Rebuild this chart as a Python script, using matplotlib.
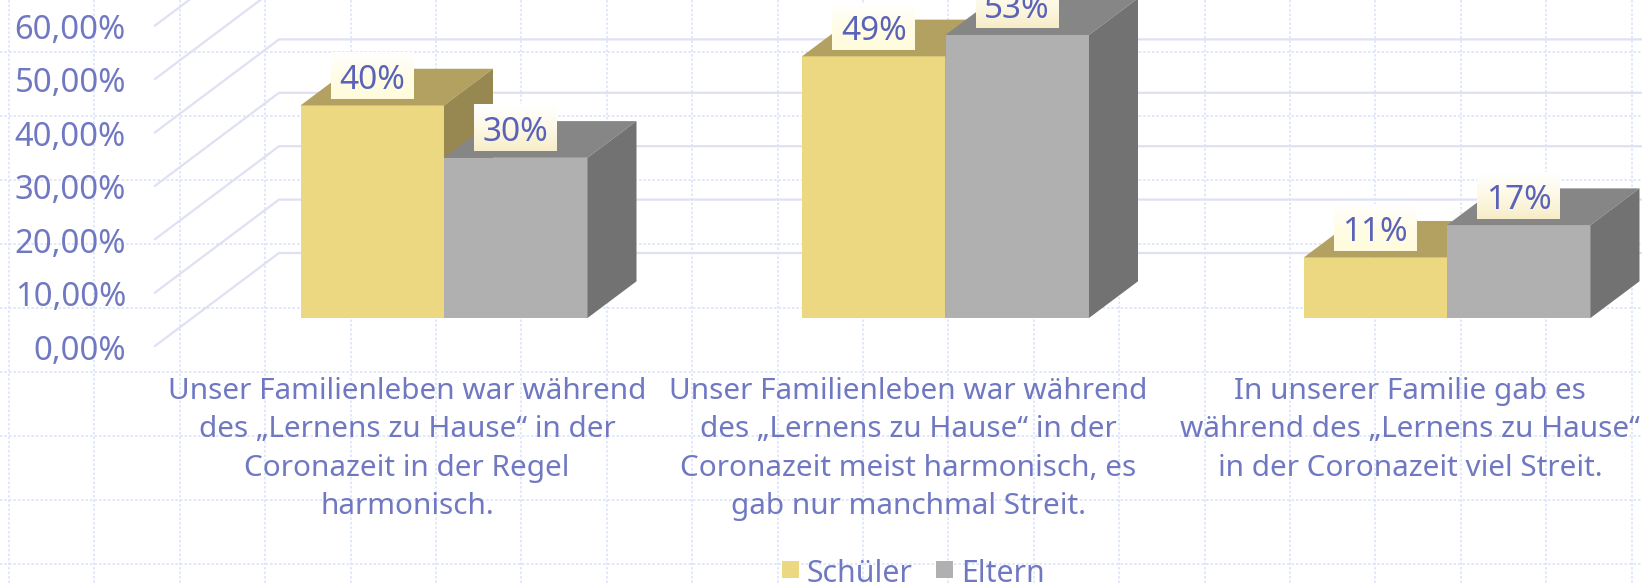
import numpy as np
import matplotlib.pyplot as plt
from matplotlib.colors import LinearSegmentedColormap
from matplotlib.patches import Polygon, Rectangle

plt.rcParams['font.family'] = ['Noto Sans', 'DejaVu Sans']

categories = [
    'Unser Familienleben war während\ndes „Lernens zu Hause“ in der\nCoronazeit in der Regel\nharmonisch.',
    'Unser Familienleben war während\ndes „Lernens zu Hause“ in der\nCoronazeit meist harmonisch, es\ngab nur manchmal Streit.',
    'In unserer Familie gab es\nwährend des „Lernens zu Hause“\nin der Coronazeit viel Streit.',
]
schueler = [39.8, 49.0, 11.3]
eltern = [30.0, 53.0, 17.4]
ticks = [0, 10, 20, 30, 40, 50, 60]
tick_labels = ['0,00%', '10,00%', '20,00%', '30,00%', '40,00%', '50,00%', '60,00%']

W, H = 1642, 583
PX_X = 501.5   # pixels per category
PX_Y = 5.34    # pixels per percent
BASE_X, BASE_Y = 444, 318

TEXT = '#7078c2'
LABEL = '#5a63b8'
GRID = '#dfe1f3'
BG_GRID = '#dbe4fb'


def dx(px):
    return px / PX_X


def dy(px):
    return px / PX_Y


fig = plt.figure(figsize=(W / 100, H / 100), dpi=100, facecolor='white')

# dotted sheet behind the chart
bg = fig.add_axes([0, 0, 1, 1], zorder=0)
bg.set_xlim(0, W)
bg.set_ylim(H, 0)
bg.axis('off')
for x in np.arange(9, W, 85.4):
    bg.axvline(x, color=BG_GRID, lw=1.2, ls=(0, (1.5, 1.2)))
for y in np.arange(52, H, 64):
    bg.axhline(y, color=BG_GRID, lw=1.2, ls=(0, (1.5, 1.2)))

ax = fig.add_axes([0, 0, 1, 1], zorder=1)
ax.patch.set_alpha(0)
xlim = (-BASE_X / PX_X, (W - BASE_X) / PX_X)
ylim = (-(H - BASE_Y) / PX_Y, BASE_Y / PX_Y)
ax.axis('off')

# walls
front_x, front_off = dx(155 - BASE_X), dy(BASE_Y - 346)
back_x, back_off = dx(279 - BASE_X), dy(BASE_Y - 253)
for t, lab in zip(ticks, tick_labels):
    ax.plot([front_x, back_x, xlim[1]], [t + front_off, t + back_off, t + back_off],
            color=GRID, lw=1.6, solid_joinstyle='miter', zorder=1)
    ax.text(dx(126 - BASE_X), t + front_off + dy(-1), lab, ha='right', va='center_baseline',
            color=TEXT, fontsize=23.6, zorder=6)

bar_w = dx(143.5)
depth_x, depth_y = dx(49), dy(36.7)


def bar3d(x0, v, front, top, side):
    ax.bar(x0, v, width=bar_w, align='edge', color=front, lw=0, zorder=3)
    ax.add_patch(Polygon([(x0, v), (x0 + bar_w, v), (x0 + bar_w + depth_x, v + depth_y),
                          (x0 + depth_x, v + depth_y)], closed=True, fc=top, lw=0, zorder=3))
    ax.add_patch(Polygon([(x0 + bar_w, 0), (x0 + bar_w + depth_x, depth_y),
                          (x0 + bar_w + depth_x, v + depth_y), (x0 + bar_w, v)],
                         closed=True, fc=side, lw=0, zorder=3))


def value_box(xc, v, cmap):
    yc = v + dy(30)
    hw, hh = dx(41.5), dy(23.5)
    ax.imshow(np.linspace(0, 1, 32).reshape(-1, 1), cmap=cmap, aspect='auto', origin='upper',
              extent=(xc - hw, xc + hw, yc - hh, yc + hh), zorder=5)
    ax.text(xc, yc - dy(1), f'{v:.0f}%', ha='center', va='center_baseline', color=LABEL,
            fontsize=24, zorder=6)


cmap_s = LinearSegmentedColormap.from_list('s', ['#ffffff', '#fffde6', '#fffbdc'])
cmap_e = LinearSegmentedColormap.from_list('e', ['#ffffff', '#fdf9e6', '#f7edc9'])

for i in range(len(categories)):
    bar3d(i - bar_w, schueler[i], '#ecd881', '#b2a160', '#968850')
    bar3d(i, eltern[i], '#b0b0b0', '#868686', '#727272')
    value_box(i - bar_w / 2, schueler[i], cmap_s)
    value_box(i + bar_w / 2, eltern[i], cmap_e)
    # category text, one line at a time
    for j, line in enumerate(categories[i].split('\n')):
        ax.text(i - dx(37), dy(318 - 388 - 38.4 * j), line, ha='center', va='center_baseline',
                color=TEXT, fontsize=21.4, zorder=6)

# legend
for x_box, x_txt, col, name in [(782, 806, '#ecd881', 'Schüler'), (936, 961, '#b0b0b0', 'Eltern')]:
    ax.add_patch(Rectangle((dx(x_box - BASE_X), dy(BASE_Y - 578)), dx(17), dy(17), fc=col, lw=0, zorder=3))
    ax.text(dx(x_txt - BASE_X), dy(BASE_Y - 570), name, ha='left', va='center_baseline',
            color=TEXT, fontsize=21.8, zorder=6)

ax.set_xlim(xlim)
ax.set_ylim(ylim)

plt.savefig('out.png', dpi=100)
